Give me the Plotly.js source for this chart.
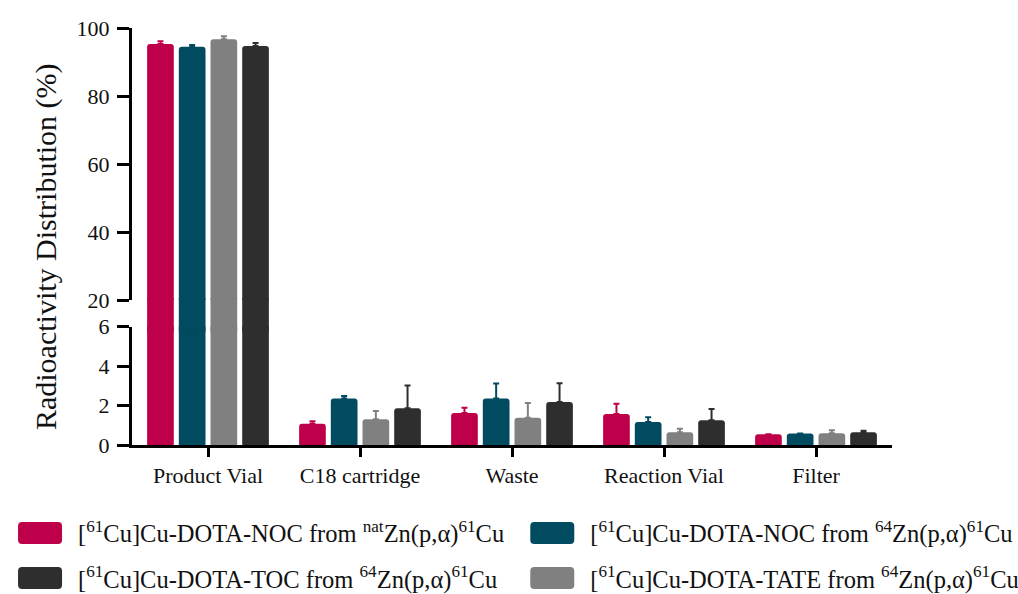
<!DOCTYPE html>
<html>
<head>
<meta charset="utf-8">
<script src="https://cdn.plot.ly/plotly-3.0.1.min.js"></script>
<style>html,body{margin:0;padding:0;background:#fff;}#chart{width:1018px;height:594px;}</style>
</head>
<body>
<div id="chart"></div>
<script>
const categories = ["Product Vial", "C18 cartridge", "Waste", "Reaction Vial", "Filter"];

const seriesNames = [
  "[<sup>61</sup>Cu]Cu-DOTA-NOC from <sup>nat</sup>Zn(p,α)<sup>61</sup>Cu",
  "[<sup>61</sup>Cu]Cu-DOTA-NOC from <sup>64</sup>Zn(p,α)<sup>61</sup>Cu",
  "[<sup>61</sup>Cu]Cu-DOTA-TATE from <sup>64</sup>Zn(p,α)<sup>61</sup>Cu",
  "[<sup>61</sup>Cu]Cu-DOTA-TOC from <sup>64</sup>Zn(p,α)<sup>61</sup>Cu"
];
const nocNat  = [95.3, 1.08, 1.62, 1.57, 0.55];
const nocNatErr = [0.8, 0.12, 0.27, 0.52, 0.0];
const noc64   = [94.5, 2.35, 2.36, 1.16, 0.58];
const noc64Err = [0.5, 0.13, 0.75, 0.25, 0.0];
const tate64  = [96.7, 1.31, 1.38, 0.65, 0.60];
const tate64Err = [0.9, 0.41, 0.75, 0.17, 0.15];
const toc64   = [94.7, 1.86, 2.18, 1.26, 0.64];
const toc64Err = [0.9, 1.15, 0.95, 0.56, 0.08];

const colors = ["#BE004A", "#004B60", "#808080", "#2E2E2E"];
// legend slots: red top-left, teal top-right, gray bottom-right, black bottom-left
const legendIds = ["legend", "legend2", "legend4", "legend3"];

const values = [nocNat, noc64, tate64, toc64];
const errs = [nocNatErr, noc64Err, tate64Err, toc64Err];

const traces = [];
const axes = ["y", "y3", "y2"];
axes.forEach((ax, ai) => {
  values.forEach((v, i) => {
    traces.push({
      type: "bar",
      x: categories,
      y: v,
      yaxis: ax,
      name: seriesNames[i],
      legend: legendIds[i],
      showlegend: ai === 0,
      marker: {color: colors[i], cornerradius: ax === "y3" ? 0 : 3, line: {width: 0}},
      error_y: ax === "y3" ? {visible: false} : {
        type: "data", symmetric: false, array: errs[i],
        arrayminus: errs[i].map(() => 0),
        color: colors[i], thickness: 2, width: 3
      },
      hoverinfo: "skip"
    });
  });
});

const serif = "Liberation Serif, Times New Roman, serif";
const legendCommon = {
  orientation: "h", xanchor: "left", yanchor: "middle",
  font: {size: 24.5, family: serif, color: "#111"},
  itemwidth: 66, bgcolor: "rgba(0,0,0,0)"
};
const col1 = -0.171, col2 = 0.503, row1 = -0.211, row2 = -0.319;
const yTick = {
  showline: true, linewidth: 3, linecolor: "#000",
  ticks: "outside", ticklen: 12, tickwidth: 3, tickcolor: "#000",
  ticklabelstandoff: 3,
  showgrid: false, zeroline: false, anchor: "x",
  tickfont: {size: 22, family: serif, color: "#111"}
};
const layout = {
  width: 1018, height: 594,
  margin: {l: 132, r: 126, t: 28, b: 149, autoexpand: false},
  paper_bgcolor: "#fff", plot_bgcolor: "rgba(0,0,0,0)",
  barmode: "group", bargap: 0.166, bargroupgap: 0.158,
  font: {family: serif, color: "#111", size: 21},
  xaxis: {
    range: [-0.5, 4.5], showline: true, linewidth: 3, linecolor: "#000",
    ticks: "outside", ticklen: 9, tickwidth: 3, tickcolor: "#000",
    showgrid: false, zeroline: false, anchor: "y",
    tickfont: {size: 22, family: serif, color: "#111"}
  },
  yaxis: Object.assign({}, yTick, {domain: [0, 0.284], range: [0, 6], tickvals: [0, 2, 4, 6]}),
  yaxis3: {
    domain: [0.272, 0.352], range: [6, 20], visible: false,
    showgrid: false, zeroline: false, anchor: "x"
  },
  yaxis2: Object.assign({}, yTick, {domain: [0.3477, 1], range: [20, 100], tickvals: [20, 40, 60, 80, 100]}),
  showlegend: true,
  legend: Object.assign({}, legendCommon, {x: col1, y: row1}),
  legend2: Object.assign({}, legendCommon, {x: col2, y: row1}),
  legend3: Object.assign({}, legendCommon, {x: col1, y: row2}),
  legend4: Object.assign({}, legendCommon, {x: col2, y: row2}),
  annotations: [{
    text: "Radioactivity Distribution (%)", xref: "paper", yref: "paper",
    x: -0.113, y: 0.475, xanchor: "center", yanchor: "middle",
    textangle: -90, showarrow: false, font: {size: 30, family: serif, color: "#111"}
  }]
};

// larger rounded legend swatches, like the reference
const swatchPath = "M-18,-11H18A4,4 0 0 1 22,-7V7A4,4 0 0 1 18,11H-18A4,4 0 0 1 -22,7V-7A4,4 0 0 1 -18,-11Z";
function enlargeSwatches(gd) {
  gd.querySelectorAll(".legendpoints path").forEach(p => {
    p.setAttribute("d", swatchPath);
    p.style.strokeWidth = "0px";
  });
}

Plotly.newPlot("chart", traces, layout, {displayModeBar: false, staticPlot: true})
  .then(gd => {
    enlargeSwatches(gd);
    if (gd.on) gd.on("plotly_afterplot", () => enlargeSwatches(gd));
  });
</script>
</body>
</html>
